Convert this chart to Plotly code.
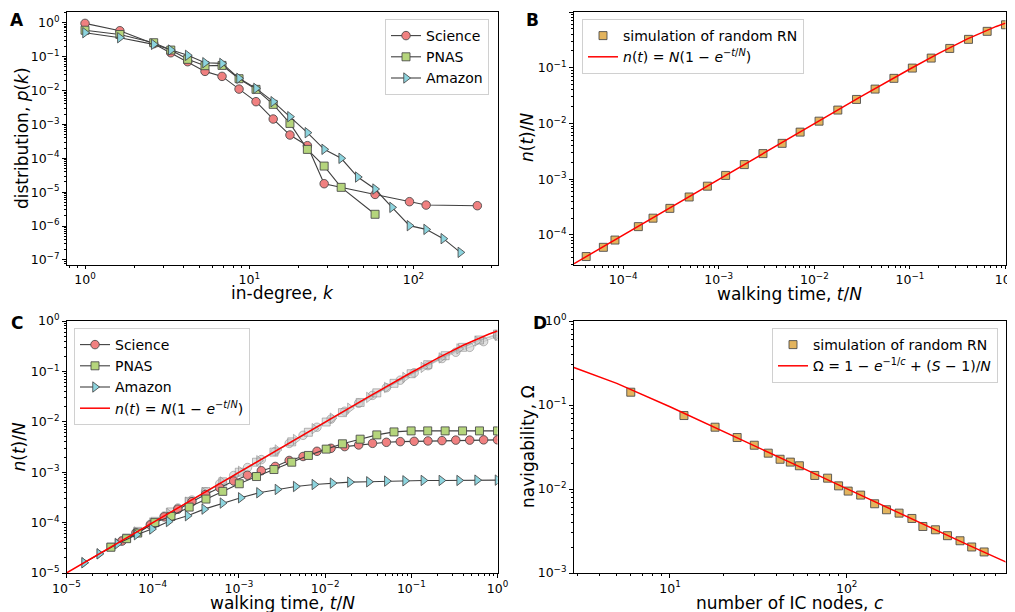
import plotly.graph_objects as go

# ---------------- Panel A: in-degree distributions ----------------
sci_k = [1.0, 1.63, 2.62, 3.33, 4.22, 5.38, 6.83, 8.67, 11.0, 14.0, 17.7, 22.6, 28.6, 58.4, 94.6, 119.5, 245]
sci_p = [0.955, 0.58, 0.24, 0.13, 0.0707, 0.0367, 0.0261, 0.011, 0.00468, 0.00144, 4.86e-4, 2.36e-4,
         1.78e-5, 8.6e-6, 5.25e-6, 4.17e-6, 4.0e-6]
pnas_k = [1.0, 1.63, 2.62, 3.33, 4.22, 5.38, 6.83, 8.67, 11.0, 14.0, 17.7, 22.6, 28.6, 36.3, 58.4]
pnas_p = [0.6, 0.45, 0.257, 0.156, 0.083, 0.054, 0.055, 0.0223, 0.0108, 0.0039, 0.00107, 1.83e-4,
          5.9e-5, 1.39e-5, 2.23e-6]
amz_k = [1.0, 1.63, 2.62, 3.33, 4.22, 5.38, 6.83, 8.67, 11.0, 14.0, 17.7, 22.6, 28.6, 36.3, 45.8,
         58.4, 74.1, 94.6, 119.5, 152, 193]
amz_p = [0.507, 0.361, 0.23, 0.156, 0.109, 0.066, 0.063, 0.0229, 0.01156, 0.00468, 0.00169, 5.7e-4,
         1.84e-4, 1.0e-4, 2.8e-5, 1.24e-5, 3.57e-6, 1.03e-6, 8.0e-7, 4.26e-7, 1.68e-7]

# ---------------- Panel B: random RN simulation ----------------
b_t = [4.1e-5, 6.2e-5, 8.2e-5, 1.44e-4, 2.05e-4, 3.08e-4, 4.9e-4, 7.6e-4, 1.18e-3, 1.85e-3, 2.9e-3,
       4.6e-3, 7.1e-3, 0.0112, 0.0176, 0.0276, 0.0432, 0.068, 0.106, 0.167, 0.261, 0.41, 0.643, 1.0]
b_n = [4.1e-5, 6.0e-5, 8.1e-5, 1.41e-4, 2.0e-4, 3.0e-4, 4.8e-4, 7.5e-4, 1.17e-3, 1.83e-3, 2.88e-3,
       4.4e-3, 7.0e-3, 0.011, 0.0174, 0.027, 0.0414, 0.0645, 0.0986, 0.149, 0.222, 0.323, 0.45, 0.59]
theory_t = [1e-5, 3e-5, 1e-4, 1e-3, 1e-2, 0.03, 0.1, 0.2, 0.4, 0.6, 0.8, 1.0]
theory_n = [1e-5, 3e-5, 1e-4, 1e-3, 0.00995, 0.0296, 0.095, 0.181, 0.33, 0.451, 0.551, 0.632]

# ---------------- Panel C: real networks vs randomized ----------------
sci_t = [4.4e-5, 6.4e-5, 9.4e-5, 1.36e-4, 1.96e-4, 2.85e-4, 4.1e-4, 6.0e-4, 8.7e-4, 1.26e-3, 1.82e-3,
         2.64e-3, 3.83e-3, 5.55e-3, 8.05e-3, 0.0117, 0.0169, 0.0245, 0.0355, 0.0514, 0.0745, 0.108,
         0.156, 0.227, 0.328, 0.476, 0.69, 1.0]
sci_n = [4.3e-5, 6.2e-5, 9.0e-5, 1.3e-4, 1.85e-4, 2.6e-4, 3.6e-4, 4.9e-4, 6.7e-4, 8.7e-4, 1.07e-3,
         1.3e-3, 1.71e-3, 2.05e-3, 2.6e-3, 2.98e-3, 3.22e-3, 3.47e-3, 3.74e-3, 3.92e-3, 4.04e-3, 4.1e-3,
         4.17e-3, 4.23e-3, 4.33e-3, 4.33e-3, 4.38e-3, 4.38e-3]
sci_rand = [4.4e-5, 6.4e-5, 9.3e-5, 1.35e-4, 1.95e-4, 2.8e-4, 4.05e-4, 5.9e-4, 8.6e-4, 1.24e-3, 1.78e-3,
            2.58e-3, 3.72e-3, 5.4e-3, 7.8e-3, 0.0113, 0.0162, 0.0233, 0.0335, 0.0475, 0.067, 0.094,
            0.13, 0.18, 0.24, 0.3, 0.39, 0.5]
pn_t = [3.27e-5, 4.98e-5, 6.7e-5, 1.06e-4, 1.63e-4, 2.65e-4, 4.15e-4, 6.5e-4, 1.01e-3, 1.6e-3, 2.55e-3,
        4.1e-3, 6.4e-3, 0.0103, 0.0159, 0.0255, 0.0398, 0.063, 0.0995, 0.155, 0.247, 0.393, 0.618, 1.0]
pn_n = [3.25e-5, 4.8e-5, 6.2e-5, 1.0e-4, 1.33e-4, 2.03e-4, 2.93e-4, 4.17e-4, 5.9e-4, 8.2e-4, 1.13e-3,
        1.58e-3, 2.15e-3, 2.87e-3, 3.66e-3, 4.52e-3, 5.5e-3, 6.3e-3, 6.6e-3, 6.6e-3, 6.6e-3, 6.6e-3,
        6.6e-3, 6.6e-3]
pn_rand = [3.27e-5, 4.97e-5, 6.7e-5, 1.06e-4, 1.63e-4, 2.64e-4, 4.13e-4, 6.45e-4, 1.0e-3, 1.58e-3,
           2.5e-3, 4.0e-3, 6.2e-3, 0.0099, 0.0152, 0.0242, 0.0375, 0.058, 0.09, 0.136, 0.205, 0.3,
           0.42, 0.55]
am_t = [1.6e-5, 2.4e-5, 3.9e-5, 6.5e-5, 9.8e-5, 1.53e-4, 2.54e-4, 3.96e-4, 6.45e-4, 1.05e-3, 1.71e-3,
        2.8e-3, 4.56e-3, 7.5e-3, 0.0122, 0.0194, 0.0322, 0.052, 0.0847, 0.138, 0.223, 0.359, 0.58, 1.0]
am_n = [1.6e-5, 2.4e-5, 3.8e-5, 5.75e-5, 7.45e-5, 1.05e-4, 1.37e-4, 1.85e-4, 2.44e-4, 3.11e-4, 3.91e-4,
        4.55e-4, 5.2e-4, 5.7e-4, 6.07e-4, 6.35e-4, 6.45e-4, 6.65e-4, 6.75e-4, 6.86e-4, 6.86e-4,
        6.86e-4, 6.96e-4, 6.96e-4]
am_rand = [1.6e-5, 2.4e-5, 3.9e-5, 6.5e-5, 9.8e-5, 1.53e-4, 2.53e-4, 3.95e-4, 6.4e-4, 1.04e-3, 1.69e-3,
           2.76e-3, 4.45e-3, 7.3e-3, 0.0118, 0.0186, 0.0305, 0.048, 0.076, 0.12, 0.185, 0.28, 0.4, 0.52]

# ---------------- Panel D: navigability ----------------
d_c = [6, 12, 18, 24, 30, 36, 42, 48, 54, 66, 78, 90, 102, 120, 144, 168, 198, 234, 270, 318, 372,
       438, 510, 600]
d_omega = [0.142, 0.0749, 0.0544, 0.041, 0.0332, 0.0267, 0.0226, 0.0209, 0.0189, 0.0145, 0.01346,
           0.0109, 0.00944, 0.00846, 0.00667, 0.00566, 0.00516, 0.00446, 0.00358, 0.00327, 0.00278,
           0.00242, 0.00204, 0.00178]
d_line_c = [2.86, 5, 10, 20, 50, 100, 200, 500, 800]
d_line_omega = [0.279, 0.181, 0.0953, 0.0489, 0.0199, 0.0101, 0.0051, 0.0021, 0.00135]

# ---------------- styles ----------------
FONT = "DejaVu Sans"
C_SCI = "#f08080"
C_PNAS = "#b5d57c"
C_AMZ = "#8cd4de"
C_SIM = "#e3b45e"
EDGE = "rgba(70,70,70,0.85)"
LINE = "#404040"
GREY_FILL = "rgba(200,200,200,0.55)"
GREY_EDGE = "rgba(130,130,130,0.55)"

fig = go.Figure()


def series(x, y, sym, fill, name, xa, ya, legend, show=True, mode="lines+markers",
           lcol=LINE, edge=EDGE, size=8.5):
    fig.add_trace(go.Scatter(
        x=x, y=y, mode=mode, name=name, xaxis=xa, yaxis=ya, legend=legend, showlegend=show,
        line=dict(color=lcol, width=1.1),
        marker=dict(symbol=sym, size=size, color=fill, line=dict(color=edge, width=1)),
        cliponaxis=True,
    ))


# A
series(sci_k, sci_p, "circle", C_SCI, "Science", "x", "y", "legend")
series(pnas_k, pnas_p, "square", C_PNAS, "PNAS", "x", "y", "legend", size=8)
series(amz_k, amz_p, "triangle-right", C_AMZ, "Amazon", "x", "y", "legend", size=9)

# B
series(b_t, b_n, "square", C_SIM, "simulation of random RN", "x2", "y2", "legend2",
       mode="markers", size=8)
theory_label = "<i>n</i>(<i>t</i>) = <i>N</i>(1 − <i>e</i><sup>−<i>t</i>/<i>N</i></sup>)"
fig.add_trace(go.Scatter(x=theory_t, y=theory_n, mode="lines", name=theory_label,
                         xaxis="x2", yaxis="y2", legend="legend2",
                         line=dict(color="#ff0000", width=1.5)))

# C: randomized (grey) first
series(sci_t, sci_rand, "circle", GREY_FILL, "rand Science", "x3", "y3", "legend3", show=False,
       lcol="rgba(150,150,150,0.5)", edge=GREY_EDGE)
series(pn_t, pn_rand, "square", GREY_FILL, "rand PNAS", "x3", "y3", "legend3", show=False,
       lcol="rgba(150,150,150,0.5)", edge=GREY_EDGE, size=8)
series(am_t, am_rand, "triangle-right", GREY_FILL, "rand Amazon", "x3", "y3", "legend3", show=False,
       lcol="rgba(150,150,150,0.5)", edge=GREY_EDGE, size=9)
series(sci_t, sci_n, "circle", C_SCI, "Science", "x3", "y3", "legend3")
series(pn_t, pn_n, "square", C_PNAS, "PNAS", "x3", "y3", "legend3", size=8)
series(am_t, am_n, "triangle-right", C_AMZ, "Amazon", "x3", "y3", "legend3", size=9)
fig.add_trace(go.Scatter(x=theory_t, y=theory_n, mode="lines", name=theory_label,
                         xaxis="x3", yaxis="y3", legend="legend3",
                         line=dict(color="#ff0000", width=1.5)))

# D
series(d_c, d_omega, "square", C_SIM, "simulation of random RN", "x4", "y4", "legend4",
       mode="markers", size=8)
fig.add_trace(go.Scatter(x=d_line_c, y=d_line_omega, mode="lines",
                         name="Ω = 1 − <i>e</i><sup>−1/<i>c</i></sup> + (<i>S</i> − 1)/<i>N</i>",
                         xaxis="x4", yaxis="y4", legend="legend4",
                         line=dict(color="#ff0000", width=1.5)))


# ---------------- geometry ----------------
# the page body has an 8px margin, so the figure is 8px smaller than the window
OFF = 8
W, H = 1015 - OFF, 612 - OFF


def fx(px):
    return (px - OFF) / W


def fy(py):
    return 1 - (py - OFF) / H


def sup(e):
    return "10<sup>%s</sup>" % (str(e).replace("-", "−"))


def log_axis(lo, hi, domain, anchor, major_exps, overflow="hide past div"):
    minor = []
    for e in range(int(lo) - 1, int(hi) + 2):
        for m in range(2, 10):
            minor.append(m * 10 ** e)
    return dict(
        type="log", range=[lo, hi], domain=domain, anchor=anchor, automargin=False,
        showline=True, mirror=True, linecolor="black", linewidth=1,
        showgrid=False, zeroline=False,
        ticks="outside", ticklen=3.5, tickwidth=0.9, tickcolor="black",
        tickmode="array", tickvals=[10 ** e for e in major_exps],
        ticktext=[sup(e) for e in major_exps], ticklabeloverflow=overflow,
        tickfont=dict(family=FONT, size=12.5, color="black"),
        minor=dict(tickmode="array", tickvals=minor, ticks="outside", ticklen=2,
                   tickwidth=0.6, tickcolor="black"),
    )


xdA = [fx(66.5), fx(497.5)]
xdB = [fx(573.5), fx(1005.5)]
ydTop = [fy(264.5), fy(12)]
ydBot = [fy(573), fy(321)]

fig.update_layout(
    xaxis=log_axis(-0.1127, 2.512, xdA, "y", [0, 1, 2]),
    yaxis=log_axis(-7.133, 0.316, ydTop, "x", [0, -1, -2, -3, -4, -5, -6, -7]),
    xaxis2=log_axis(-4.52, 0, xdB, "y2", [-4, -3, -2, -1, 0], overflow="allow"),
    yaxis2=log_axis(-4.53, 0, ydTop, "x2", [-4, -3, -2, -1, 0]),
    xaxis3=log_axis(-5, 0, xdA, "y3", [-5, -4, -3, -2, -1, 0], overflow="allow"),
    yaxis3=log_axis(-5, 0, ydBot, "x3", [-5, -4, -3, -2, -1, 0]),
    xaxis4=log_axis(0.454, 2.899, xdB, "y4", [1, 2]),
    yaxis4=log_axis(-3, 0, ydBot, "x4", [-3, -2, -1, 0]),
)

leg_common = dict(bgcolor="rgba(255,255,255,0.85)", bordercolor="#d0d0d0", borderwidth=1,
                  font=dict(family=FONT, size=14, color="black"), itemwidth=30,
                  tracegroupgap=0)
fig.update_layout(
    legend=dict(x=fx(489), y=fy(19), xanchor="right", yanchor="top", **leg_common),
    legend2=dict(x=fx(582), y=fy(19), xanchor="left", yanchor="top", **leg_common),
    legend3=dict(x=fx(74), y=fy(328), xanchor="left", yanchor="top", **leg_common),
    legend4=dict(x=fx(998), y=fy(328), xanchor="right", yanchor="top", **leg_common),
)

# panel letters (anchored by their top edge)
for letter, px, py in [("A", 16.5, 8), ("B", 532, 8), ("C", 16.5, 311), ("D", 540, 311)]:
    fig.add_annotation(text="<b>%s</b>" % letter, x=fx(px), y=fy(py), xref="paper", yref="paper",
                       showarrow=False, xanchor="center", yanchor="top",
                       font=dict(family=FONT, size=17, color="black"))

# axis titles
TITLE_FONT = dict(family=FONT, size=17, color="black")
axis_titles = [
    ("in-degree, <i>k</i>", 282, 293, 0),
    ("walking time, <i>t</i>/<i>N</i>", 789.5, 294, 0),
    ("walking time, <i>t</i>/<i>N</i>", 282, 603, 0),
    ("number of IC nodes, <i>c</i>", 789.5, 603, 0),
    ("distribution, <i>p</i>(<i>k</i>)", 22, 138, -90),
    ("<i>n</i>(<i>t</i>)/<i>N</i>", 527, 138, -90),
    ("<i>n</i>(<i>t</i>)/<i>N</i>", 18.5, 447, -90),
    ("navigability, Ω", 528, 447, -90),
]
for text, px, py, ang in axis_titles:
    fig.add_annotation(text=text, x=fx(px), y=fy(py), xref="paper", yref="paper",
                       showarrow=False, xanchor="center", yanchor="middle", textangle=ang,
                       borderpad=0, font=TITLE_FONT)

fig.update_layout(
    width=W, height=H, margin=dict(l=0, r=0, t=0, b=0),
    paper_bgcolor="white", plot_bgcolor="white",
    font=dict(family=FONT, color="black"),
)

fig.write_html("out.html")
